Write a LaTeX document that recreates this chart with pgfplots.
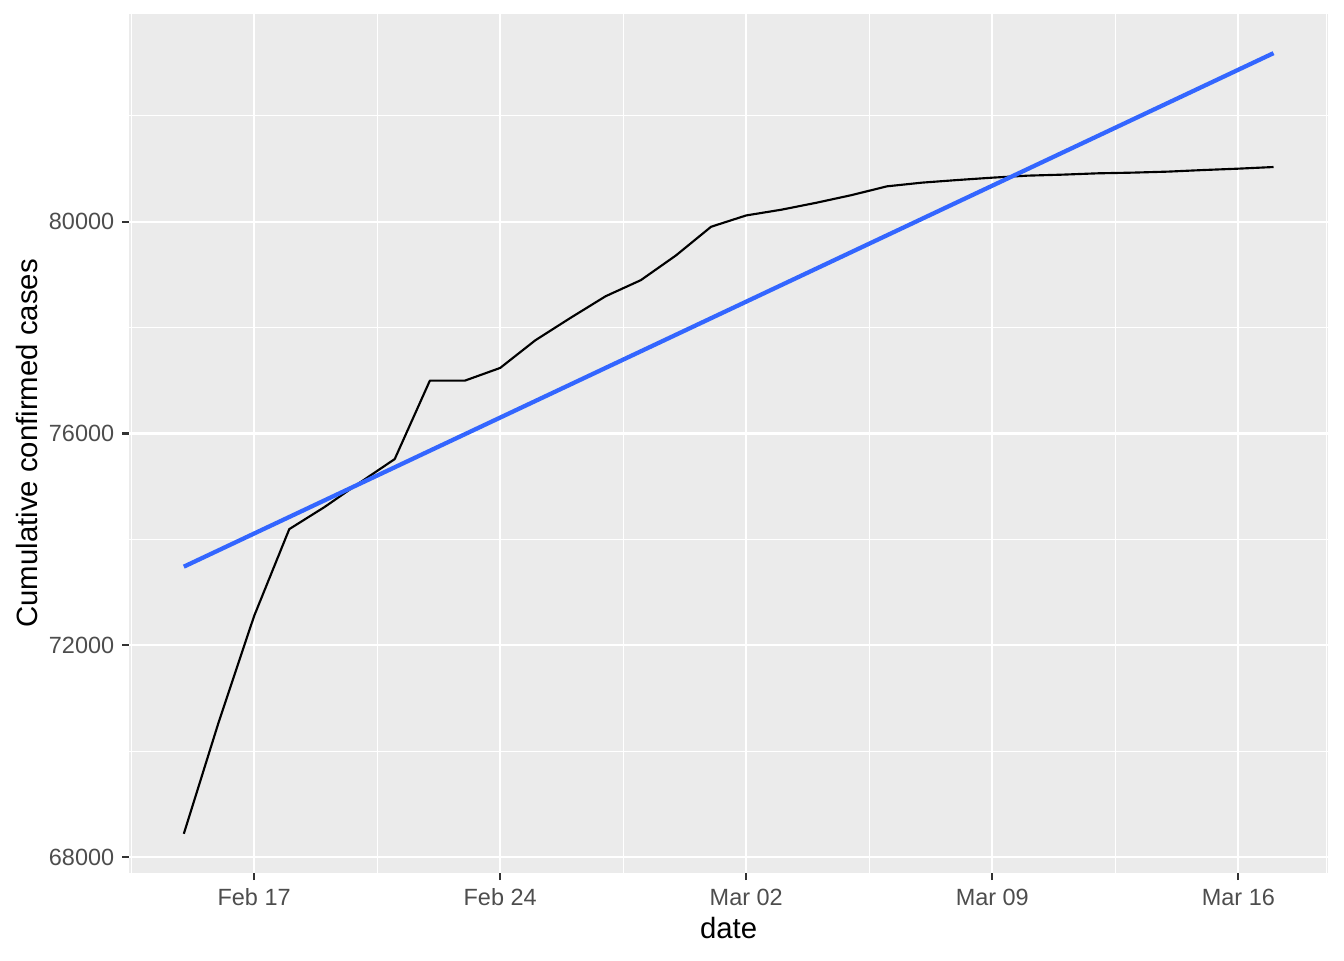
\documentclass[border=0pt]{standalone}
\usepackage{fontspec}
\setmainfont{Liberation Sans}
\usepackage{pgfplots}
\pgfplotsset{compat=1.18}

\definecolor{panelgrey}{HTML}{EBEBEB}
\definecolor{tickgrey}{HTML}{333333}
\definecolor{labelgrey}{HTML}{4D4D4D}
\definecolor{smoothblue}{HTML}{3366FF}

\begin{document}
\begin{tikzpicture}
  \useasboundingbox (0,0) rectangle (504pt,360pt);
  \begin{axis}[
      at={(48.5pt,32.7pt)}, anchor=south west,
      scale only axis,
      width=449.5pt, height=322pt,
      xmin=-3.55, xmax=30.55,
      ymin=67705, ymax=83920,
      axis background/.style={fill=panelgrey},
      axis line style={draw=none},
      % days counted from Feb 17
      xtick={0,7,14,21,28},
      xticklabels={Feb 17,Feb 24,Mar 02,Mar 09,Mar 16},
      minor xtick={-3.5,3.5,10.5,17.5,24.5,30.5},
      ytick={68000,72000,76000,80000},
      minor ytick={70000,74000,78000,82000},
      grid=both,
      major grid style={white, line width=0.8pt},
      minor grid style={white, line width=0.4pt},
      tick pos=left, tick align=outside,
      major tick length=2.74pt,
      minor tick style={draw=none},
      major tick style={tickgrey, line width=0.8pt},
      scaled y ticks=false,
      /pgf/number format/assume math mode=true,
      /pgf/number format/1000 sep={},
      xticklabel style={font=\fontsize{8.8}{10}\selectfont, text=labelgrey,
        anchor=base, yshift=-9.6pt},
      yticklabel style={font=\fontsize{8.8}{10}\selectfont, text=labelgrey,
        anchor=east, xshift=0.6pt},
      xlabel={date},
      ylabel={Cumulative confirmed cases},
      xlabel style={font=\fontsize{11}{13}\selectfont,
        at={(axis description cs:0.5,-0.0764)}, anchor=base},
      ylabel style={font=\fontsize{11}{13}\selectfont,
        at={(axis description cs:-0.077,0.5)}, anchor=base},
    ]
    \addplot[black, line width=0.8pt, line join=round] coordinates {
      (-2,68442) (-1,70567) (0,72554) (1,74195) (2,74611) (3,75070)
      (4,75518) (5,77000) (6,77000) (7,77239) (8,77761) (9,78184)
      (10,78593) (11,78896) (12,79363) (13,79905) (14,80119) (15,80227)
      (16,80359) (17,80503) (18,80668) (19,80738) (20,80787) (21,80832)
      (22,80870) (23,80889) (24,80914) (25,80927) (26,80946) (27,80976)
      (28,81002) (29,81033)
    };
    % linear fit
    \addplot[smoothblue, line width=1.6pt] coordinates {
      (-2,73486) (29,83183)
    };
  \end{axis}
\end{tikzpicture}
\end{document}
